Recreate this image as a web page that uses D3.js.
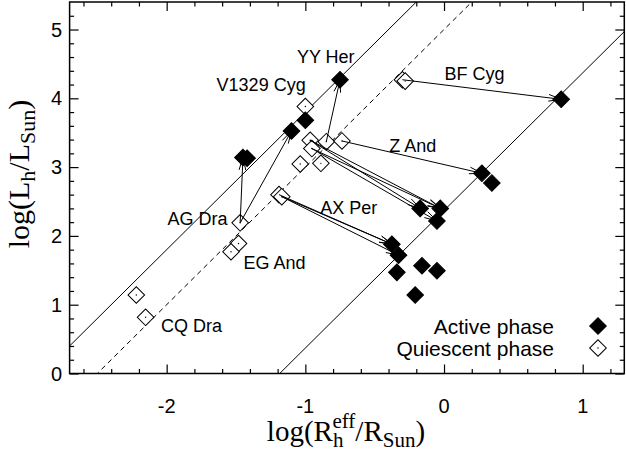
<!DOCTYPE html>
<html><head><meta charset="utf-8">
<script src="https://cdn.jsdelivr.net/npm/d3@7"></script>
<style>body{margin:0;background:#fff}svg{display:block}</style>
</head><body><svg id="c" width="626" height="452"></svg>
<script>
// ---------- data ----------
const xDomain = [-2.7, 1.3];
const yDomain = [0, 5.4];
const xTickValues = [-2, -1, 0, 1];
const yTickValues = [0, 1, 2, 3, 4, 5];
const xMinorTicks = d3.range(-13, 7).map(i => +(i * 0.2).toFixed(1));
const yMinorTicks = d3.range(1, 27).map(i => +(i * 0.2).toFixed(1));

// active phase (filled diamonds)
const activeX = [-0.75, -1.00, -1.10, -1.45, -1.42, 0.845, 0.273, 0.345, -0.172, -0.027, -0.051, -0.376, -0.328, -0.34, -0.159, -0.051, -0.208];
const activeY = [4.27, 3.68, 3.525, 3.14, 3.13, 3.985, 2.91, 2.77, 2.40, 2.40, 2.217, 1.88, 1.72, 1.47, 1.567, 1.494, 1.141];

// quiescent phase (open diamonds)
const quiescentX = [-1.00, -0.30, -0.28, -0.965, -0.849, -0.736, -0.953, -1.037, -0.888, -1.47, -1.19, -1.17, -1.482, -1.536, -2.219, -2.152];
const quiescentY = [3.88, 4.27, 4.25, 3.39, 3.37, 3.38, 3.27, 3.045, 3.055, 2.19, 2.60, 2.57, 1.89, 1.77, 1.141, 0.817];

// transitions quiescent -> active (arrows)
const arrowFromX = [-0.30, -0.736, -0.849, -1.47, -1.47, -1.19, -1.17, -1.17, -0.965, -0.965, -0.953, -0.953];
const arrowFromY = [4.27, 3.38, 3.37, 2.19, 2.19, 2.60, 2.57, 2.57, 3.39, 3.39, 3.27, 3.27];
const arrowToX   = [0.845, 0.273, -0.75, -1.45, -1.10, -0.376, -0.376, -0.328, -0.172, -0.027, -0.027, -0.051];
const arrowToY   = [3.985, 2.91, 4.27, 3.14, 3.525, 1.88, 1.88, 1.72, 2.40, 2.40, 2.40, 2.217];

// lines of constant temperature: log L = 2 log R + c
const lineIntercepts = [5.8, 5.0, 2.37];
const lineDashed = [false, true, false];

// object labels
const labelText = ["YY Her", "V1329 Cyg", "BF Cyg", "Z And", "AX Per", "AG Dra", "EG And", "CQ Dra"];
const labelX = [-1.061, -1.64, 0.004, -0.395, -0.893, -1.994, -1.446, -2.041];
const labelY = [4.513, 4.106, 4.266, 3.219, 2.318, 2.158, 1.519, 0.603];

const legendText = ["Active phase", "Quiescent phase"];

// ---------- drawing ----------
const svg = d3.select("#c");
const L = 69.6, R = 624.3, T = 2, B = 373.5;
const x = d3.scaleLinear().domain(xDomain).range([L, R]);
const y = d3.scaleLinear().domain(yDomain).range([B, T]);
const sans = "'Liberation Sans', Arial, Helvetica, sans-serif";
const serif = "'Liberation Serif', 'Times New Roman', serif";

svg.append("defs").append("clipPath").attr("id", "clip")
  .append("rect").attr("x", L).attr("y", T).attr("width", R - L).attr("height", B - T);

const plot = svg.append("g");

// constant-temperature lines
const lg = plot.append("g").attr("clip-path", "url(#clip)");
lineIntercepts.forEach((c, i) => {
  lg.append("line")
    .attr("x1", x(xDomain[0])).attr("y1", y(2 * xDomain[0] + c))
    .attr("x2", x(xDomain[1])).attr("y2", y(2 * xDomain[1] + c))
    .attr("stroke", "#000").attr("stroke-width", 1)
    .attr("stroke-dasharray", lineDashed[i] ? "5,4" : null);
});

// axes with inward ticks on all sides
function mkAxis(gen, scale, vals, size, tf) {
  const g = svg.append("g").attr("transform", tf)
    .call(gen(scale).tickValues(vals).tickSize(size).tickFormat(""));
  g.select(".domain").remove();
  g.selectAll(".tick line").attr("stroke", "#000").attr("stroke-width", 1.2);
  g.selectAll(".tick text").remove();
  return g;
}
const xMin = xMinorTicks.filter(v => !xTickValues.includes(v));
const yMin = yMinorTicks.filter(v => !yTickValues.includes(v));
mkAxis(d3.axisBottom, x, xTickValues, -9, `translate(0,${B})`);
mkAxis(d3.axisBottom, x, xMin, -4.5, `translate(0,${B})`);
mkAxis(d3.axisTop, x, xTickValues, -9, `translate(0,${T})`);
mkAxis(d3.axisTop, x, xMin, -4.5, `translate(0,${T})`);
mkAxis(d3.axisLeft, y, yTickValues, -9, `translate(${L},0)`);
mkAxis(d3.axisLeft, y, yMin, -4.5, `translate(${L},0)`);
mkAxis(d3.axisRight, y, yTickValues, -9, `translate(${R},0)`);
mkAxis(d3.axisRight, y, yMin, -4.5, `translate(${R},0)`);

// tick labels
svg.append("g").selectAll("text").data(xTickValues).join("text")
  .attr("x", d => x(d)).attr("y", 413).attr("text-anchor", "middle")
  .attr("font-family", sans).attr("font-size", 20).text(d => d);
svg.append("g").selectAll("text").data(yTickValues).join("text")
  .attr("x", 62).attr("y", d => y(d) + 7).attr("text-anchor", "end")
  .attr("font-family", sans).attr("font-size", 20).text(d => d);

// frame
svg.append("rect").attr("x", L).attr("y", T).attr("width", R - L).attr("height", B - T)
  .attr("fill", "none").attr("stroke", "#000").attr("stroke-width", 1.5);

// diamonds
const dsym = d3.symbol().type(d3.symbolSquare).size(138);
const quiescent = quiescentX.map((v, i) => [v, quiescentY[i]]);
const active = activeX.map((v, i) => [v, activeY[i]]);

const qg = plot.append("g");
quiescent.forEach(d => {
  const g = qg.append("g").attr("transform", `translate(${x(d[0])},${y(d[1])})`);
  g.append("path").attr("d", dsym()).attr("transform", "rotate(45)")
    .attr("fill", "#fff").attr("stroke", "#000").attr("stroke-width", 1);
  g.append("circle").attr("r", 0.7).attr("fill", "#000");
});

// arrows
const ag = plot.append("g").attr("stroke", "#000").attr("stroke-width", 1).attr("fill", "none");
arrowFromX.forEach((_, i) => {
  const x1 = x(arrowFromX[i]), y1 = y(arrowFromY[i]);
  const x2 = x(arrowToX[i]), y2 = y(arrowToY[i]);
  const th = Math.atan2(y2 - y1, x2 - x1), hl = 13, ha = 0.26;
  ag.append("line").attr("x1", x1).attr("y1", y1).attr("x2", x2).attr("y2", y2);
  ag.append("path").attr("d",
    `M${x2 - hl * Math.cos(th - ha)},${y2 - hl * Math.sin(th - ha)}L${x2},${y2}L${x2 - hl * Math.cos(th + ha)},${y2 - hl * Math.sin(th + ha)}`);
});

// active
const fg = plot.append("g");
active.forEach(d => {
  fg.append("path").attr("d", dsym())
    .attr("transform", `translate(${x(d[0])},${y(d[1])}) rotate(45)`)
    .attr("fill", "#000").attr("stroke", "#000").attr("stroke-width", 1);
});

// labels
svg.append("g").selectAll("text").data(labelText).join("text")
  .attr("x", (d, i) => x(labelX[i])).attr("y", (d, i) => y(labelY[i]))
  .attr("font-family", sans).attr("font-size", 18).text(d => d);

// legend
const leg = svg.append("g");
legendText.forEach((t, i) => {
  const yy = 326 + i * 22;
  leg.append("text").attr("x", 554).attr("y", yy + 7.5).attr("text-anchor", "end")
    .attr("font-family", sans).attr("font-size", 21).text(t);
  const g = leg.append("g").attr("transform", `translate(598,${yy})`);
  g.append("path").attr("d", dsym()).attr("transform", "rotate(45)")
    .attr("fill", i === 0 ? "#000" : "#fff").attr("stroke", "#000").attr("stroke-width", 1);
  if (i === 1) g.append("circle").attr("r", 0.7).attr("fill", "#000");
});

// axis titles
const xt = svg.append("text").attr("x", 346).attr("y", 441).attr("text-anchor", "middle")
  .attr("font-family", serif).attr("font-size", 29);
xt.append("tspan").text("log(R");
xt.append("tspan").attr("font-size", 21).attr("dy", 6).text("h");
xt.append("tspan").attr("font-size", 21).attr("dx", -11).attr("dy", -19).text("eff");
xt.append("tspan").attr("dy", 13).text("/R");
xt.append("tspan").attr("font-size", 21).attr("dy", 6).text("Sun");
xt.append("tspan").attr("dy", -6).text(")");

const yt = svg.append("text").attr("transform", "translate(29,174) rotate(-90)")
  .attr("text-anchor", "middle").attr("font-family", serif).attr("font-size", 30);
yt.append("tspan").text("log(L");
yt.append("tspan").attr("font-size", 22).attr("dy", 6).text("h");
yt.append("tspan").attr("dy", -6).text("/L");
yt.append("tspan").attr("font-size", 22).attr("dy", 6).text("Sun");
yt.append("tspan").attr("dy", -6).text(")");
</script>
</body></html>
